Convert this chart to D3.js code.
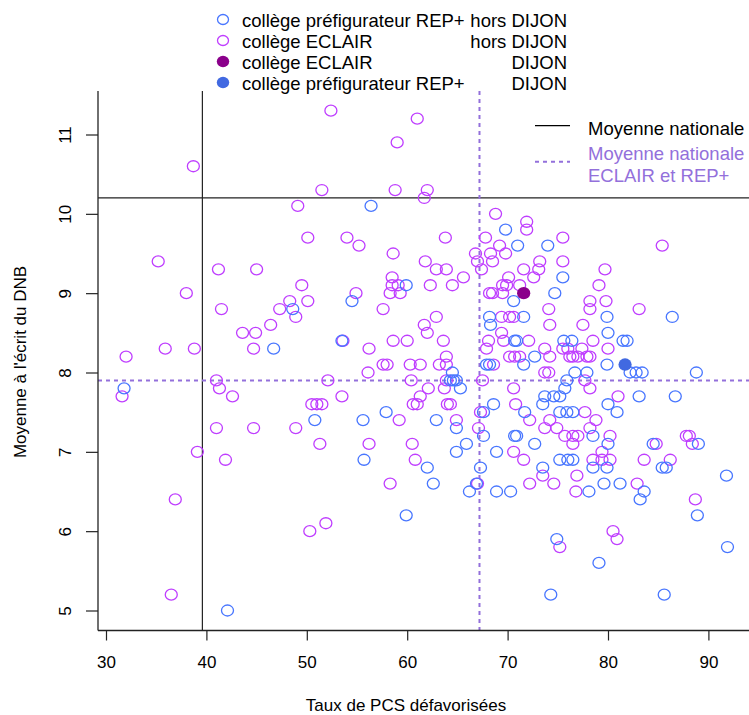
<!DOCTYPE html>
<html><head><meta charset="utf-8">
<script src="https://cdn.jsdelivr.net/npm/d3@7"></script>
<style>body{margin:0;background:#fff} svg{display:block} text{font-family:"Liberation Sans",Arial,sans-serif}</style>
</head><body><svg id="c" width="749" height="715"></svg>
<script>
// ECLAIR hors DIJON
const eclairX=[38.7,49.1,50.1,35.2,41.2,45.0,52.4,61.0,59.0,51.5,58.8,62.0,61.7,68.8,71.9,71.9,54.0,55.2,63.8,67.8,69.2,58.6,66.8,68.3,69.8,61.8,67.0,68.5,62.9,63.9,67.4,71.6,73.2,75.5,85.4,75.5,73.1,79.7,49.5,38.0,50.1,48.3,47.3,48.9,41.5,46.4,43.6,44.9,44.7,35.9,38.8,32.0,41.0,41.3,42.6,31.6,50.5,51.0,51.5,41.0,44.7,48.9,51.3,39.1,58.5,65.6,70.1,72.6,58.5,59.1,62.3,64.5,54.9,58.3,59.3,68.2,68.5,69.5,69.9,69.5,71.2,57.6,62.9,69.4,70.2,70.6,61.7,62.0,69.4,53.6,58.6,60.0,63.6,68.1,67.9,69.6,72.1,56.2,63.9,57.6,58.0,60.3,61.3,63.2,63.9,68.6,70.2,70.7,71.2,73.7,74.2,56.1,52.1,60.4,63.9,67.5,62.1,63.7,70.6,53.5,61.3,60.6,61.0,64.0,64.3,70.8,67.3,59.2,64.9,72.2,67.1,56.2,60.5,79.1,78.2,78.2,79.8,74.1,83.1,74.2,77.5,78.5,75.5,76.0,77.4,80.0,76.2,76.5,77.0,77.9,78.2,73.7,74.1,77.7,78.2,81.0,77.7,74.2,78.8,73.7,74.9,78.2,75.7,76.5,77.0,80.2,87.8,88.1,76.5,84.8,88.4,41.9,36.9,50.3,51.9,36.5,60.8,70.6,71.6,58.3,67.0,72.2,73.5,78.5,79.4,79.4,80.2,83.6,86.2,74.6,76.9,76.8,82.9,88.7,80.5,80.9,75.2];
const eclairY=[10.6,10.1,9.7,9.4,9.3,9.3,11.3,11.2,10.9,10.3,10.3,10.3,10.2,10.0,9.9,9.8,9.7,9.6,9.7,9.7,9.6,9.5,9.5,9.5,9.5,9.4,9.4,9.4,9.3,9.3,9.3,9.3,9.4,9.7,9.6,9.4,9.3,9.3,9.1,9.0,8.9,8.9,8.8,8.7,8.8,8.6,8.5,8.5,8.3,8.3,8.3,8.2,7.9,7.8,7.7,7.7,7.6,7.6,7.6,7.3,7.3,7.3,7.1,7.0,9.2,9.2,9.2,9.2,9.1,9.1,9.1,9.1,9.0,9.0,9.0,9.0,9.0,9.1,9.1,9.0,9.1,8.8,8.7,8.7,8.7,8.7,8.6,8.5,8.5,8.4,8.4,8.4,8.4,8.4,8.3,8.4,8.4,8.3,8.2,8.1,8.1,8.1,8.1,8.1,8.1,8.1,8.2,8.2,8.2,8.3,8.2,8.0,7.9,7.9,7.9,7.9,7.8,7.8,7.8,7.7,7.7,7.6,7.6,7.6,7.6,7.6,7.5,7.4,7.4,7.4,7.3,7.1,7.1,9.1,8.9,8.8,8.9,8.8,8.8,8.6,8.6,8.4,8.3,8.3,8.3,8.3,8.2,8.2,8.2,8.2,8.2,8.0,8.0,7.9,7.8,7.7,7.5,7.4,7.4,7.3,7.3,7.3,7.2,7.2,7.2,7.2,7.2,7.2,7.1,7.1,7.1,6.9,6.4,6.0,6.1,5.2,6.9,7.0,6.9,6.6,6.6,6.6,6.7,6.9,7.0,6.9,6.9,6.9,6.9,6.6,6.7,6.5,6.6,6.4,6.0,5.9,5.8];
// REP+ hors DIJON
const repX=[56.4,69.8,71.0,74.0,48.6,46.7,31.8,50.8,59.9,54.5,70.6,68.2,71.6,68.3,53.5,70.7,70.9,67.9,68.2,71.6,72.7,64.5,64.3,64.6,64.9,65.3,68.6,57.9,67.6,71.7,55.6,62.9,64.9,67.6,70.7,70.9,65.9,72.7,75.5,74.7,86.4,79.9,80.0,75.6,76.4,81.5,81.9,79.9,76.7,77.9,82.2,82.8,83.4,88.8,75.9,75.7,73.7,74.6,75.2,73.5,83.1,86.7,80.0,80.9,75.2,75.9,76.5,78.5,80.0,84.5,89.0,42.1,55.7,62.0,64.9,68.9,67.3,62.6,66.9,66.2,68.9,70.3,59.9,73.5,75.2,76.0,76.5,78.5,79.9,85.4,85.8,91.8,78.1,79.6,81.2,83.6,83.2,88.9,74.9,91.9,79.1,74.3,85.6];
const repY=[10.1,9.8,9.6,9.6,8.8,8.3,7.8,7.4,9.1,8.9,8.9,8.7,8.7,8.6,8.4,8.4,8.4,8.1,8.1,8.1,8.2,8.0,7.9,7.9,7.9,7.8,7.6,7.5,7.5,7.5,7.4,7.4,7.3,7.2,7.2,7.2,7.1,7.1,9.2,9.0,8.7,8.7,8.5,8.4,8.4,8.4,8.4,8.1,8.0,8.0,8.0,8.0,8.0,8.0,7.9,7.8,7.7,7.7,7.7,7.6,7.7,7.7,7.6,7.5,7.5,7.5,7.5,7.2,7.1,7.1,7.1,5.0,6.9,6.8,7.0,7.0,6.8,6.6,6.6,6.5,6.5,6.5,6.2,6.8,6.9,6.9,6.9,6.8,6.8,6.8,6.8,6.7,6.5,6.6,6.6,6.5,6.4,6.2,5.9,5.8,5.6,5.2,5.2];
// DIJON
const dijonEclair=[71.6,9.0];
const dijonRep=[81.7,8.1];
// reference lines
const natX=39.6, natY=10.2, epX=67.2, epY=7.9;
const xTicks=[30,40,50,60,70,80,90];
const yTicks=[5,6,7,8,9,10,11];
const legendLabels=["collège préfigurateur REP+","collège ECLAIR","collège ECLAIR","collège préfigurateur REP+"];
const legendPlace=["hors DIJON","hors DIJON","DIJON","DIJON"];

const C_ECL="#BF3EFF", C_REP="#4876FF", C_DE="#8B008B", C_DR="#4169E1", C_EP="#9370DB";
const svg=d3.select("#c");
const x=d3.scaleLinear().domain([30,90]).range([106,708.4]);
const y=d3.scaleLinear().domain([5,11]).range([610.5,134.5]);
const L=98,R=749,T=91,B=630.5;

// reference lines
svg.append("line").attr("x1",L).attr("x2",R).attr("y1",y(natY)).attr("y2",y(natY)).attr("stroke","#222").attr("stroke-width",1.2);
svg.append("line").attr("x1",x(natX)).attr("x2",x(natX)).attr("y1",T).attr("y2",B).attr("stroke","#222").attr("stroke-width",1.2);
svg.append("line").attr("x1",L).attr("x2",R).attr("y1",y(epY)).attr("y2",y(epY)).attr("stroke",C_EP).attr("stroke-width",2).attr("stroke-dasharray","4,4");
svg.append("line").attr("x1",x(epX)).attr("x2",x(epX)).attr("y1",T).attr("y2",B).attr("stroke",C_EP).attr("stroke-width",2).attr("stroke-dasharray","4,4");

const eclair=eclairX.map((v,i)=>[v,eclairY[i]]);
const rep=repX.map((v,i)=>[v,repY[i]]);
svg.append("g").selectAll("ellipse").data(eclair).join("ellipse")
 .attr("cx",d=>x(d[0])).attr("cy",d=>y(d[1])).attr("rx",6).attr("ry",5.5)
 .attr("fill","none").attr("stroke",C_ECL).attr("stroke-width",1.3);
svg.append("g").selectAll("ellipse").data(rep).join("ellipse")
 .attr("cx",d=>x(d[0])).attr("cy",d=>y(d[1])).attr("rx",6).attr("ry",5.5)
 .attr("fill","none").attr("stroke",C_REP).attr("stroke-width",1.3);
svg.append("ellipse").attr("cx",x(dijonEclair[0])).attr("cy",y(dijonEclair[1])).attr("rx",6.6).attr("ry",6.2).attr("fill",C_DE);
svg.append("ellipse").attr("cx",x(dijonRep[0])).attr("cy",y(dijonRep[1])).attr("rx",6.6).attr("ry",6.2).attr("fill",C_DR);

// axes
svg.append("line").attr("x1",L).attr("x2",R).attr("y1",B).attr("y2",B).attr("stroke","#222").attr("stroke-width",1.3);
svg.append("line").attr("x1",L).attr("x2",L).attr("y1",T).attr("y2",B).attr("stroke","#222").attr("stroke-width",1.3);
const xa=svg.append("g").attr("transform",`translate(0,${B})`).call(d3.axisBottom(x).tickValues(xTicks).tickSize(10).tickPadding(15).tickFormat(d3.format("d")));
xa.select(".domain").remove();
xa.selectAll("line").attr("stroke","#222").attr("stroke-width",1.2);
xa.selectAll("text").attr("font-size",17).attr("fill","#000").style("font-family",'"Liberation Sans",Arial,sans-serif');
const ya=svg.append("g").attr("transform",`translate(${L},0)`).call(d3.axisLeft(y).tickValues(yTicks).tickSize(12).tickFormat(d3.format("d")));
ya.select(".domain").remove();
ya.selectAll("line").attr("stroke","#222").attr("stroke-width",1.2);
ya.selectAll("text").attr("x",null).attr("dy",null).attr("transform","translate(-27,0) rotate(-90)")
  .attr("text-anchor","middle").attr("font-size",17).attr("fill","#000").style("font-family",'"Liberation Sans",Arial,sans-serif');

svg.append("text").attr("x",406).attr("y",711).attr("text-anchor","middle").attr("font-size",17).text("Taux de PCS défavorisées");
svg.append("text").attr("transform","translate(26,362) rotate(-90)").attr("text-anchor","middle").attr("font-size",17).text("Moyenne à l'écrit du DNB");

// top legend
const lg=svg.append("g");
const legStyle=[{f:"none",s:C_REP},{f:"none",s:C_ECL},{f:C_DE,s:"none"},{f:C_DR,s:"none"}];
legendLabels.forEach((t,i)=>{
  const by=27+21*i;
  lg.append("ellipse").attr("cx",223).attr("cy",by-7.5).attr("rx",legStyle[i].f==="none"?5.5:6.2).attr("ry",legStyle[i].f==="none"?5:5.8)
    .attr("fill",legStyle[i].f).attr("stroke",legStyle[i].s).attr("stroke-width",1.3);
  lg.append("text").attr("x",242).attr("y",by).attr("font-size",18.5).text(t);
  lg.append("text").attr("x",567).attr("y",by).attr("text-anchor","end").attr("font-size",18.5).text(legendPlace[i]);
});
// right legend
svg.append("line").attr("x1",535).attr("x2",570).attr("y1",125.7).attr("y2",125.7).attr("stroke","#000").attr("stroke-width",1.2);
svg.append("text").attr("x",588).attr("y",135).attr("font-size",18.5).text("Moyenne nationale");
svg.append("line").attr("x1",535).attr("x2",570).attr("y1",161.7).attr("y2",161.7).attr("stroke",C_EP).attr("stroke-width",2).attr("stroke-dasharray","4,4");
svg.append("text").attr("x",588).attr("y",160).attr("font-size",18.5).attr("fill",C_EP).text("Moyenne nationale");
svg.append("text").attr("x",588).attr("y",181.5).attr("font-size",18.5).attr("fill",C_EP).text("ECLAIR et REP+");
</script></body></html>
